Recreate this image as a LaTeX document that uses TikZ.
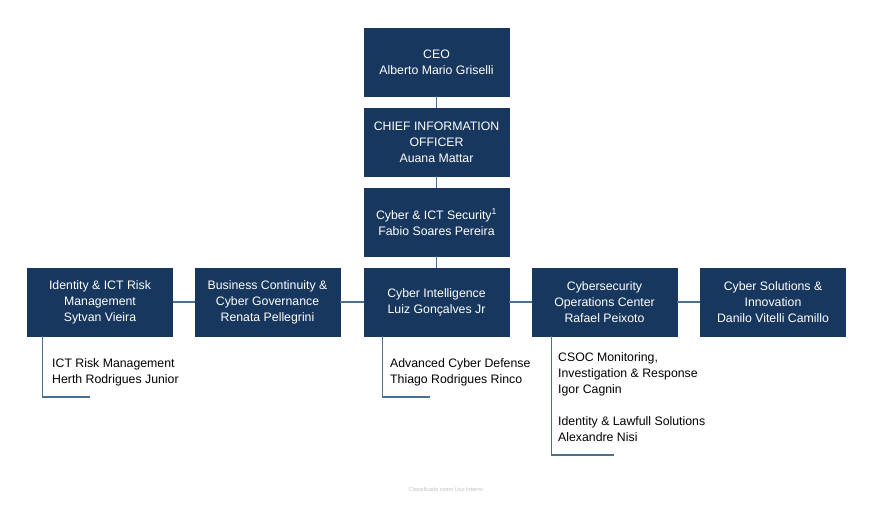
\documentclass[tikz,border=0pt]{standalone}
\usepackage{fontspec}
\setmainfont{Liberation Sans}
\usetikzlibrary{positioning}

\definecolor{navy}{HTML}{17375E}
\definecolor{linkblue}{HTML}{4A7090}

\tikzset{
  unit/.style={draw=navy, fill=navy, text=white, align=center,
    minimum width=145pt, minimum height=68pt, inner sep=2pt,
    font=\fontsize{12.3}{16}\selectfont},
  link/.style={draw=linkblue, line width=1.3pt},
  team/.style={anchor=north west, align=left, inner sep=0pt,
    font=\fontsize{12.3}{16}\selectfont}
}

\begin{document}
\begin{tikzpicture}[x=1pt,y=-1pt]
      \useasboundingbox (0,0) rectangle (880,507);
      % top chain
      \node[unit] (ceo) at (436.5,62) {CEO\\Alberto Mario Griselli};
      \node[unit] (cio) at (436.5,142) {CHIEF INFORMATION\\OFFICER\\Auana Mattar};
      \node[unit] (sec) at (436.5,222) {Cyber \& ICT Security\textsuperscript{1}\\Fabio Soares Pereira};
      % second row
      \node[unit] (idrm) at (100,302) {Identity \& ICT Risk\\Management\\Sytvan Vieira};
      \node[unit] (bcg) at (267.5,302) {Business Continuity \&\\Cyber Governance\\Renata Pellegrini};
      \node[unit] (ci) at (436.5,302) {Cyber Intelligence\\Luiz Gonçalves Jr};
      \node[unit] (csoc) at (604.5,302) {Cybersecurity\\Operations Center\\Rafael Peixoto};
      \node[unit] (csi) at (773,302) {Cyber Solutions \&\\Innovation\\Danilo Vitelli Camillo};
      \draw[link] (ceo) -- (cio);
      \draw[link] (cio) -- (sec);
      \draw[link] (sec) -- (ci);
      \draw[link] (idrm) -- (bcg);
      \draw[link] (bcg) -- (ci);
      \draw[link] (ci) -- (csoc);
      \draw[link] (csoc) -- (csi);
      % teams below
      \node[team] (rm) at (52,358) {ICT Risk Management\\Herth Rodrigues Junior};
      \node[team] (acd) at (390,358) {Advanced Cyber Defense\\Thiago Rodrigues Rinco};
      \node[team] (mon) at (558,352) {CSOC Monitoring,\\Investigation \& Response\\Igor Cagnin};
      \node[team] (law) at (558,416) {Identity \& Lawfull Solutions\\Alexandre Nisi};
      \coordinate (rm-end) at (90,397);
      \coordinate (acd-end) at (430,397);
      \coordinate (law-end) at (614,455);
      \draw[link] ([xshift=15pt]idrm.south west) |- (rm-end);
      \draw[link] ([xshift=19pt]ci.south west) |- (acd-end);
      \draw[link] ([xshift=20pt]csoc.south west) |- (law-end);
      % footer
      \node[text=black!25, font=\fontsize{5.5}{6}\selectfont] (tag) at (446,490) {Classificado como Uso Interno};
\end{tikzpicture}
\end{document}
